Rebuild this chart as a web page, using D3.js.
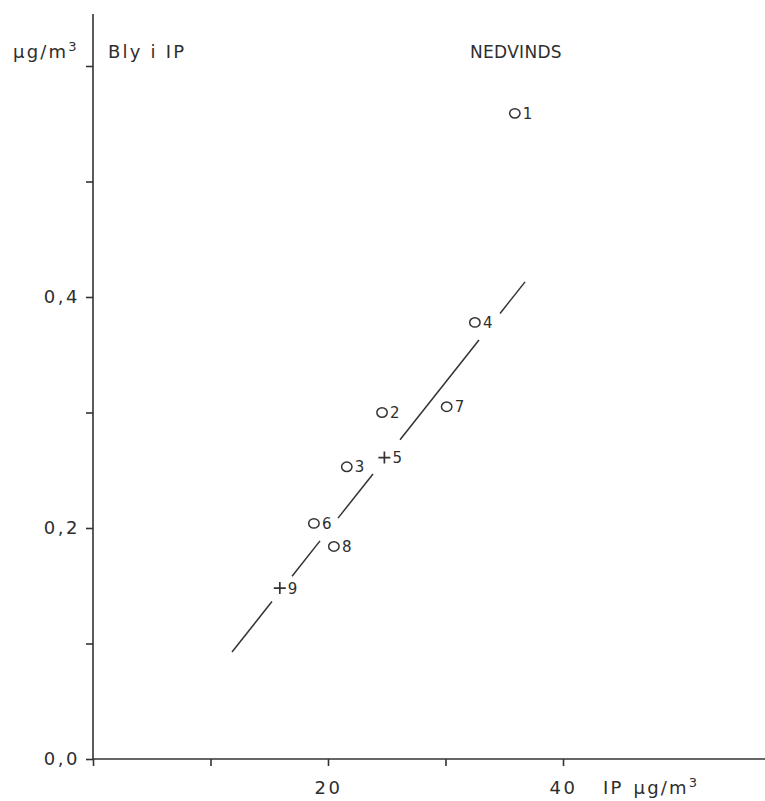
<!DOCTYPE html>
<html>
<head>
<meta charset="utf-8">
<script src="https://cdn.jsdelivr.net/npm/d3@7"></script>
<style>
  body { margin: 0; background: #fff; }
  svg text { font-family: "DejaVu Sans", sans-serif; fill: #2e2e2e; }
</style>
</head>
<body>
<svg id="chart" width="765" height="801"></svg>
<script>
// Lead in inhalable particles (IP) vs IP concentration, downwind stations
const stationIds  = ["1", "2", "3", "4", "5", "6", "7", "8", "9"];
const ipValues    = [35.9, 24.6, 21.6, 32.5, 24.8, 18.8, 30.1, 20.5, 15.9];
const leadValues  = [0.559, 0.300, 0.253, 0.378, 0.261, 0.204, 0.305, 0.184, 0.148];
const markerTypes = ["o", "o", "o", "o", "+", "o", "o", "o", "+"];

const yTicks      = [0, 0.1, 0.2, 0.3, 0.4, 0.5, 0.6];
const yTickLabels = ["0,0", "", "0,2", "", "0,4", "", ""];
const xTicks      = [0, 10, 20, 30, 40];
const xTickLabels = ["", "", "20", "", "40"];

// Fitted line lead = a + b * IP, drawn in pieces that leave room for the labels
const fitIntercept = -0.0594;
const fitSlope     = 0.01285;
const fitSegments  = [[11.83, 15.23], [16.94, 19.32], [20.85, 23.83], [26.13, 32.85], [34.64, 36.77]];

const ink = "#333";
const svg = d3.select("#chart");

const x = d3.scaleLinear().domain([0, 40]).range([93, 563]);
const y = d3.scaleLinear().domain([0, 0.6]).range([759, 66]);

// axis lines (they run past the tick range)
svg.append("line").attr("x1", x(0)).attr("x2", x(0)).attr("y1", 14).attr("y2", y(0))
  .attr("stroke", ink).attr("stroke-width", 1.6);
svg.append("line").attr("x1", x(0)).attr("x2", 765).attr("y1", y(0)).attr("y2", y(0))
  .attr("stroke", ink).attr("stroke-width", 1.6);

const yAxis = d3.axisLeft(y).tickValues(yTicks).tickSize(7).tickPadding(6)
  .tickFormat((d, i) => yTickLabels[i]);
const gy = svg.append("g").attr("transform", `translate(${x(0)},0)`).call(yAxis);

const xAxis = d3.axisBottom(x).tickValues(xTicks).tickSize(7).tickPadding(15)
  .tickFormat((d, i) => xTickLabels[i]);
const gx = svg.append("g").attr("transform", `translate(0,${y(0)})`).call(xAxis);

[gy, gx].forEach(g => {
  g.select(".domain").remove();
  g.selectAll(".tick line").attr("stroke", ink).attr("stroke-width", 1.6);
  g.selectAll(".tick text").attr("font-size", 18).attr("letter-spacing", 2.5)
    .attr("fill", ink).style("font-family", '"DejaVu Sans", sans-serif');
});

// titles
const yUnit = svg.append("text").attr("x", 13).attr("y", 58).attr("font-size", 18)
  .attr("letter-spacing", 2.2);
yUnit.append("tspan").text("µg/m");
yUnit.append("tspan").attr("font-size", 13).attr("dy", -7).text("3");

svg.append("text").attr("x", 108).attr("y", 58).attr("font-size", 18)
  .attr("letter-spacing", 2.2).text("Bly i IP");

svg.append("text").attr("x", 470).attr("y", 58).attr("font-size", 17)
  .attr("letter-spacing", 0.3).text("NEDVINDS");

const xUnit = svg.append("text").attr("x", 603).attr("y", 794).attr("font-size", 18)
  .attr("letter-spacing", 2.2);
xUnit.append("tspan").text("IP");
xUnit.append("tspan").attr("dx", 10).text("µg/m");
xUnit.append("tspan").attr("font-size", 13).attr("dy", -7).text("3");

// fitted line
svg.append("g").selectAll("line").data(fitSegments).join("line")
  .attr("x1", d => x(d[0])).attr("y1", d => y(fitIntercept + fitSlope * d[0]))
  .attr("x2", d => x(d[1])).attr("y2", d => y(fitIntercept + fitSlope * d[1]))
  .attr("stroke", ink).attr("stroke-width", 1.5);

// station markers
const pts = stationIds.map((id, i) => ({ id, ip: ipValues[i], pb: leadValues[i], kind: markerTypes[i] }));
const g = svg.append("g").selectAll("g").data(pts).join("g")
  .attr("transform", d => `translate(${x(d.ip)},${y(d.pb)})`);

g.filter(d => d.kind === "o").append("ellipse")
  .attr("rx", 5.2).attr("ry", 4.7).attr("fill", "none").attr("stroke", ink).attr("stroke-width", 1.5);
g.filter(d => d.kind === "+").append("path")
  .attr("d", "M-6,0H6M0,-6V6").attr("stroke", ink).attr("stroke-width", 1.7);

g.append("text").attr("x", 8).attr("y", 5.5).attr("font-size", 15).attr("fill", ink)
  .text(d => d.id);
</script>
</body>
</html>
